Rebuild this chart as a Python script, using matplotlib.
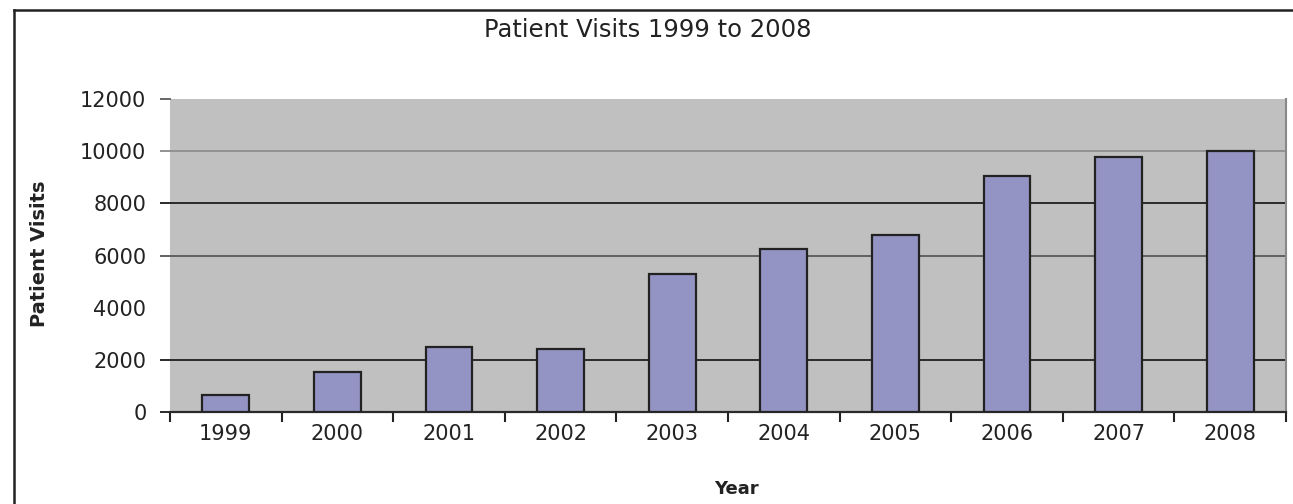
import matplotlib
matplotlib.use("Agg")
import matplotlib.pyplot as plt
from matplotlib.lines import Line2D
import numpy as np

years = ["1999", "2000", "2001", "2002", "2003", "2004", "2005", "2006", "2007", "2008"]
visits = [650, 1550, 2480, 2400, 5300, 6250, 6800, 9060, 9760, 10000]
yticks = [0, 2000, 4000, 6000, 8000, 10000, 12000]
grid_levels = [2000, 6000, 8000, 10000]
grid_colors = ["#2a2a2a", "#606060", "#2a2a2a", "#929292"]

plt.rcParams['font.family'] = ['DejaVu Sans']

W, H = 1293, 504
fig = plt.figure(figsize=(W / 100, H / 100), dpi=100)
fig.patch.set_facecolor("white")

ax = fig.add_axes([170 / W, 1 - 412 / H, (1286 - 170) / W, (412 - 99) / H])
ax.set_facecolor("#C0C0C0")

x = np.arange(len(years))
for v, c in zip(grid_levels, grid_colors):
    ax.axhline(v, color=c, lw=1.4, zorder=1)
    ax.plot([-0.58, -0.5], [v, v], color=c, lw=1.4, clip_on=False, zorder=1)
ax.bar(x, visits, width=0.42, color="#9494C4", edgecolor="#222222", linewidth=1.6, zorder=3)

ax.set_xlim(-0.5, len(years) - 0.5)
ax.set_ylim(0, 12000)
ax.set_yticks(yticks)
ax.set_yticklabels([str(v) for v in yticks])
ax.set_xticks(x)
ax.set_xticklabels(years)
ax.set_xticks(np.arange(-0.5, len(years), 1.0), minor=True)

ax.tick_params(axis="x", which="major", length=0, pad=9, labelsize=15, colors="#222222")
ax.tick_params(axis="x", which="minor", length=7, width=1.5, direction="out", color="#222222")
ax.tick_params(axis="y", length=0, pad=17, labelsize=15, colors="#222222")
# short outward ticks only where the reference shows them
for v, c in [(0, "#2a2a2a"), (12000, "#666666")]:
    ax.plot([-0.58, -0.5], [v, v], color=c, lw=1.4, clip_on=False, zorder=1)

ax.spines["top"].set_visible(False)
ax.spines["left"].set_visible(False)
ax.spines["bottom"].set_color("#2a2a2a")
ax.spines["bottom"].set_linewidth(1.6)
ax.spines["right"].set_color("#888888")
ax.spines["right"].set_linewidth(1.5)

fig.text(648 / W, 1 - 30 / H, "Patient Visits 1999 to 2008",
         ha="center", va="center", fontsize=17.5, color="#222222")
fig.text(736 / W, 1 - 489 / H, "Year", ha="center", va="center",
         fontsize=13, fontweight="bold", color="#222222")
fig.text(40 / W, 1 - 254 / H, "Patient Visits", ha="center", va="center", rotation=90,
         fontsize=14, fontweight="bold", color="#222222")

# outer chart border (top and left visible in the crop)
fig.add_artist(Line2D([14 / W, 1.0], [1 - 10 / H, 1 - 10 / H], color="#222222", lw=1.8,
                      transform=fig.transFigure))
fig.add_artist(Line2D([14 / W, 14 / W], [1 - 10 / H, 0.0], color="#222222", lw=1.8,
                      transform=fig.transFigure))

fig.savefig("out.png", dpi=100, facecolor="white")
